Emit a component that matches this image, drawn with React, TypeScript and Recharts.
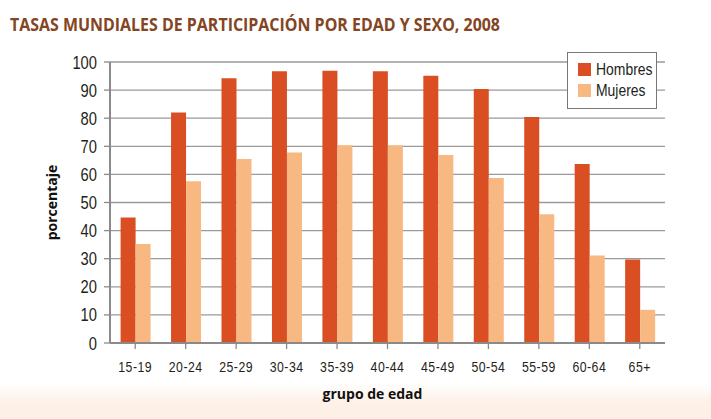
import { BarChart, Bar, XAxis, YAxis, CartesianGrid } from 'recharts'

const AGE_GROUPS = ['15-19', '20-24', '25-29', '30-34', '35-39', '40-44', '45-49', '50-54', '55-59', '60-64', '65+']
const HOMBRES = [44.7, 82, 94.2, 96.7, 96.9, 96.7, 95.1, 90.4, 80.4, 63.7, 29.7]
const MUJERES = [35.2, 57.6, 65.5, 67.8, 70.4, 70.4, 66.9, 58.7, 45.8, 31.1, 11.8]
const Y_TICKS = [0, 10, 20, 30, 40, 50, 60, 70, 80, 90, 100]
const SERIES = ['Hombres', 'Mujeres'] as const

const COLORS: Record<string, string> = { Hombres: '#d94f23', Mujeres: '#f8b882' }
// Arial Narrow look-alike: Liberation Sans squeezed horizontally
const SANS = "'Liberation Sans', Arial, sans-serif"
const BOLD_LABEL = { fontFamily: "'Open Sans', sans-serif", fontWeight: 700, fontSize: 14, fill: '#111' }

const chartData = AGE_GROUPS.map((g, i) => ({ group: g, Hombres: HOMBRES[i], Mujeres: MUJERES[i] }))

function YTick({ x, y, payload }: any) {
  return (
    <text transform={`translate(${x - 5},${y}) scale(0.82,1)`} textAnchor="end" dominantBaseline="central"
      fontFamily={SANS} fontSize={18} fill="#231f20">{payload.value}</text>
  )
}

function XTick({ x, y, payload }: any) {
  return (
    <text transform={`translate(${x},${y + 16}) scale(0.82,1)`} textAnchor="middle" dominantBaseline="central"
      fontFamily={SANS} fontSize={15} letterSpacing={0.6} fill="#231f20">{payload.value}</text>
  )
}

function LegendBox() {
  return (
    <div style={{
      position: 'absolute', left: 567, top: 52, width: 90, height: 57, background: '#fff',
      border: '1.5px solid #777', boxSizing: 'border-box', padding: '6px 0 0 10px',
      fontFamily: SANS, fontSize: 17, color: '#231f20', zIndex: 2,
    }}>
      {SERIES.map(s => (
        <div key={s} style={{ display: 'flex', alignItems: 'center', height: 21 }}>
          <span style={{ width: 13, height: 13, background: COLORS[s], marginRight: 5, flexShrink: 0 }} />
          <span style={{ display: 'inline-block', transform: 'scaleX(0.82)', transformOrigin: 'left center' }}>{s}</span>
        </div>
      ))}
    </div>
  )
}

export default function App() {
  return (
    <div style={{
      position: 'absolute', left: 0, top: 0, width: 711, height: 419, overflow: 'hidden',
      background: 'linear-gradient(to bottom, #ffffff 0px, #ffffff 383px, #fdf1e8 402px, #fdefe5 419px)',
    }}>
      <svg width={711} height={40} style={{ position: 'absolute', left: 0, top: 0 }}>
        <text x={10} y={31} textLength={490} lengthAdjust="spacingAndGlyphs"
          fontFamily="'Open Sans', sans-serif" fontWeight={700} fontSize={17} fill="#834522">
          TASAS MUNDIALES DE PARTICIPACIÓN POR EDAD Y SEXO, 2008
        </text>
      </svg>
      <BarChart width={711} height={419} data={chartData}
        margin={{ top: 62, right: 46, left: 0, bottom: 16 }}
        barCategoryGap="21%" barGap={0}>
        <CartesianGrid vertical={false} stroke="#9a9a9a" strokeWidth={1.3} />
        <XAxis dataKey="group" height={60} interval={0}
          axisLine={{ stroke: '#8a8a8a', strokeWidth: 2 }}
          tickLine={{ stroke: '#8a8a8a', strokeWidth: 1.3 }} tickSize={6}
          tick={<XTick />}
          label={{ value: 'grupo de edad', position: 'insideBottom', offset: 4, dx: -15, style: BOLD_LABEL }} />
        <YAxis width={110} domain={[0, 100]} ticks={Y_TICKS} interval={0}
          axisLine={{ stroke: '#8a8a8a', strokeWidth: 2 }}
          tickLine={{ stroke: '#8a8a8a', strokeWidth: 1.3 }} tickSize={6}
          tick={<YTick />}
          label={{ value: 'porcentaje', angle: -90, position: 'center', dx: -3, style: BOLD_LABEL }} />
        {SERIES.map(s => (
          <Bar key={s} dataKey={s} fill={COLORS[s]} isAnimationActive={false} />
        ))}
      </BarChart>
      <LegendBox />
    </div>
  )
}
